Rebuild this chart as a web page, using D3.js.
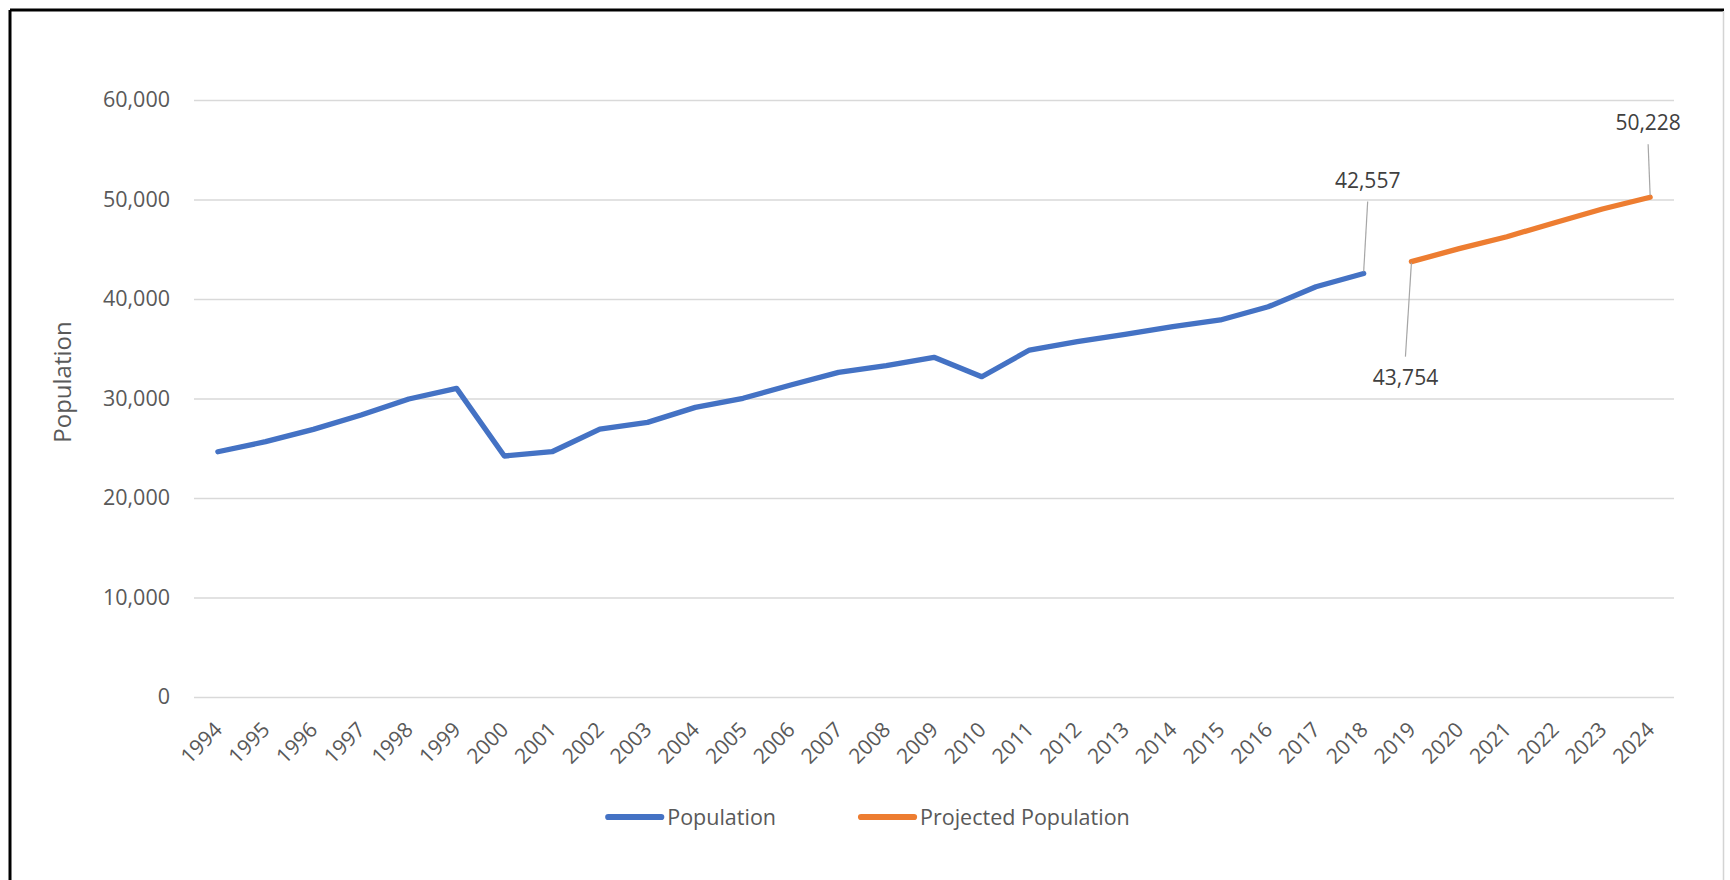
<!DOCTYPE html>
<html>
<head>
<meta charset="utf-8">
<script src="https://cdn.jsdelivr.net/npm/d3@7"></script>
<style>
  html, body { margin: 0; padding: 0; background: #ffffff; }
  svg { display: block; font-family: "Open Sans", "Noto Sans", sans-serif; }
</style>
</head>
<body>
<svg id="chart" width="1730" height="880"></svg>
<script>
// ---- data ----
const years = ["1994","1995","1996","1997","1998","1999","2000","2001","2002","2003",
  "2004","2005","2006","2007","2008","2009","2010","2011","2012","2013",
  "2014","2015","2016","2017","2018","2019","2020","2021","2022","2023","2024"];
const population = [24650, 25660, 26900, 28340, 29950, 31020, 24220, 24650, 26930, 27600,
  29110, 30020, 31360, 32630, 33300, 34140, 32190, 34870, 35710, 36450,
  37230, 37890, 39220, 41230, 42557, null, null, null, null, null, null];
const projected = [null, null, null, null, null, null, null, null, null, null,
  null, null, null, null, null, null, null, null, null, null,
  null, null, null, null, null, 43754, 45060, 46260, 47670, 49050, 50228];
const yTicks = [0, 10000, 20000, 30000, 40000, 50000, 60000];
const seriesNames = ["Population", "Projected Population"];
const seriesColors = ["#4472C4", "#ED7D31"];
const yTitle = "Population";
// data labels: series index, point index, label placement offsets (px)
const labelNotes = [
  { s: 0, i: 24, dx: 4, dy: -86, pos: "above" },
  { s: 1, i: 25, dx: -6, dy: 123, pos: "below" },
  { s: 1, i: 30, dx: -2, dy: -67, pos: "above" }
];

// ---- layout ----
const svg = d3.select("#chart");
const plot = { left: 194, right: 1674, top: 100, bottom: 697 };

// frame
svg.append("line").attr("x1", 10).attr("x2", 1724).attr("y1", 10).attr("y2", 10)
  .attr("stroke", "#000").attr("stroke-width", 3);
svg.append("line").attr("x1", 10).attr("x2", 10).attr("y1", 10).attr("y2", 880)
  .attr("stroke", "#000").attr("stroke-width", 3);
svg.append("line").attr("x1", 1723.5).attr("x2", 1723.5).attr("y1", 11).attr("y2", 880)
  .attr("stroke", "#d4d4d4").attr("stroke-width", 1.5);

const x = d3.scalePoint().domain(years).range([plot.left, plot.right]).padding(0.5);
const y = d3.scaleLinear().domain([0, 60000]).range([plot.bottom, plot.top]);

// y axis with gridlines
const yAxis = svg.append("g")
  .attr("transform", `translate(${plot.left},0)`)
  .call(d3.axisLeft(y).tickValues(yTicks).tickFormat(d3.format(","))
    .tickSize(-(plot.right - plot.left)).tickPadding(24));
yAxis.select(".domain").remove();
yAxis.selectAll(".tick line").attr("stroke", "#d9d9d9").attr("stroke-width", 1.3);
yAxis.selectAll(".tick text")
  .attr("fill", "#595959").style("font-size", "21.5px")
  .style("font-family", "'Open Sans', sans-serif");

// x axis labels
const xAxis = svg.append("g")
  .attr("transform", `translate(0,${plot.bottom})`)
  .call(d3.axisBottom(x).tickSize(0));
xAxis.select(".domain").remove();
xAxis.selectAll(".tick text")
  .attr("x", 0).attr("y", 0).attr("dy", 0)
  .attr("text-anchor", "end")
  .attr("transform", "translate(5,34) rotate(-45)")
  .attr("fill", "#595959").style("font-size", "21px")
  .style("font-family", "'Open Sans', sans-serif");

// y title
svg.append("text")
  .attr("transform", `translate(71,382) rotate(-90)`)
  .attr("text-anchor", "middle")
  .attr("fill", "#595959")
  .style("font-size", "24px")
  .text(yTitle);

// lines
const allSeries = [population, projected];
const line = d3.line()
  .defined(d => d != null)
  .x((d, i) => x(years[i]))
  .y(d => y(d));
allSeries.forEach((data, k) => {
  svg.append("path")
    .datum(data)
    .attr("d", line)
    .attr("fill", "none")
    .attr("stroke", seriesColors[k])
    .attr("stroke-width", 5.3)
    .attr("stroke-linecap", "round")
    .attr("stroke-linejoin", "round");
});

// data labels with leader lines
const fmt = d3.format(",");
labelNotes.forEach(n => {
  const v = allSeries[n.s][n.i];
  const px = x(years[n.i]);
  const py = y(v);
  const lx = px + n.dx;
  const ly = py + n.dy;
  const startY = n.pos === "above" ? ly + 14 : ly - 28;
  const endY = n.pos === "above" ? py - 2 : py + 1;
  svg.append("line")
    .attr("x1", lx).attr("y1", startY)
    .attr("x2", px).attr("y2", endY)
    .attr("stroke", "#a6a6a6").attr("stroke-width", 1.2);
  svg.append("text")
    .attr("x", lx).attr("y", ly)
    .attr("text-anchor", "middle")
    .attr("fill", "#404040")
    .style("font-size", "21px")
    .text(fmt(v));
});

// legend
const legendY = 817;
const legend = svg.append("g");
const items = legend.selectAll("g").data(seriesNames).join("g");
items.append("line")
  .attr("x1", 3).attr("x2", 56).attr("y1", 0).attr("y2", 0)
  .attr("stroke", (d, i) => seriesColors[i])
  .attr("stroke-width", 6.2).attr("stroke-linecap", "round");
items.append("text")
  .attr("x", 62).attr("y", 7.5)
  .attr("fill", "#595959")
  .style("font-size", "21.5px")
  .text(d => d);
let widths = [];
items.each(function() { widths.push(this.getBBox().width); });
const gap = 85;
const total = d3.sum(widths) + gap * (widths.length - 1);
let cursor = 866 - total / 2;
items.attr("transform", (d, i) => {
  const t = `translate(${cursor},${legendY})`;
  cursor += widths[i] + gap;
  return t;
});
</script>
</body>
</html>
